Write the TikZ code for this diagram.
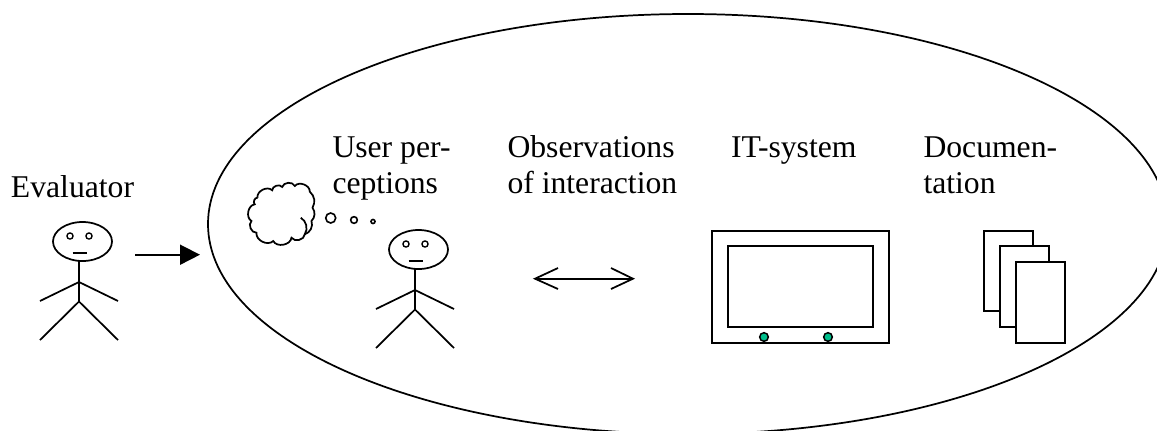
\documentclass[tikz,border=0pt]{standalone}
\usepackage{fontspec}
\setmainfont{Liberation Serif}
\usetikzlibrary{shapes.geometric,arrows.meta}
\definecolor{teal1}{RGB}{0,191,140}
\tikzset{
  x=0.75pt,y=-0.75pt,
  outer sep=0pt,
  label text/.style={anchor=base west,inner sep=0pt,outer sep=0pt,align=left,font=\fontsize{23.75pt}{27pt}\selectfont},
  line1/.style={draw=black,line width=1.3pt},
  line2/.style={draw=black,line width=1.5pt},
  sheet/.style={line2,fill=white,inner sep=0pt,minimum width=36.75pt,minimum height=60.5pt},
  eye/.style={circle,draw=black,line width=1pt,fill=white,inner sep=0pt,minimum size=4.6pt},
  bubble/.style={circle,draw=black,line width=1.2pt,inner sep=0pt},
  lamp/.style={circle,draw=black,line width=1.1pt,fill=teal1,inner sep=0pt,minimum size=6.5pt},
  bump/.style={bend left=72,looseness=1.05},
  stickman/.pic={
    \node[ellipse,line1,inner sep=0pt,minimum width=44.25pt,minimum height=29.25pt] (-head) at (82.5,241.5) {};
    \node[eye] (-eyeA) at (70,236) {};
    \node[eye] (-eyeB) at (89,236) {};
    \coordinate (-neck) at (79,261);
    \coordinate (-shoulder) at (79,282);
    \coordinate (-hip) at (79,301.5);
    \coordinate (-handA) at (40,301);
    \coordinate (-handB) at (118,301);
    \coordinate (-footA) at (40,340);
    \coordinate (-footB) at (118,340);
    \coordinate (-mouthA) at (72.5,252.7);
    \coordinate (-mouthB) at (87,252.7);
    \draw[line1] (-neck) -- (-hip);
    \draw[line1] (-handA) -- (-shoulder) -- (-handB);
    \draw[line1] (-footA) -- (-hip) -- (-footB);
    \draw[line1] (-mouthA) -- (-mouthB);
  }
}
\begin{document}
\begin{tikzpicture}
\useasboundingbox (0,0) rectangle (1157,430);
\clip (0,0) rectangle (1157,430);
\node[ellipse,line1,inner sep=0pt,minimum width=720pt,minimum height=315pt] (scope) at (688,224) {};
\node[label text] (evaluator) at (11,197) {Evaluator};
\node[label text] (user) at (332.5,193) {User per-\\ceptions};
\node[label text] (obs) at (507.5,193) {Observations\\of interaction};
\node[label text] (itsys) at (731,157) {IT-system};
\node[label text] (doc) at (923.5,193) {Documen-\\tation};
\pic (evalman) at (0,0) {stickman};
\pic (userman) at (336,8) {stickman};
% arrow evaluator -> system
\coordinate (arrowA) at (135,254.7);
\coordinate (arrowB) at (200,254.7);
\draw[line1,-{Triangle[length=15pt,width=15pt]}] (arrowA) -- (arrowB);
% thought
\begin{scope}[shift={(1.5,1)}]
\draw[line1] (256,196.7) to[bump] (270.7,189.3) to[bump] (280.7,186) to[bump] (293.3,185) to[bump] (308.3,190.7) to[bend left=40] (311,206.7) to[bend left=40] (310,220) to[bend left=45] (303.3,233.3) to[bump] (290,236.7) to[bump] (271.7,240) to[bump] (255,231.7) to[bump] (250,220) to[bump] (253.3,203.3) to[bump] (256,196.7);
\draw[line1] (299.3,216.7) to[bend left=45] (303.3,233.3);
\end{scope}
\node[bubble,minimum size=7.5pt] (b1) at (330.7,218) {};
\node[bubble,minimum size=5pt] (b2) at (354,220) {};
\node[bubble,minimum size=3pt] (b3) at (373,221.5) {};
% double arrow
\coordinate (dblA) at (535,278.7);
\coordinate (dblB) at (633,278.7);
\coordinate (barbA1) at (558,268);
\coordinate (barbA2) at (558,289);
\coordinate (barbB1) at (611,268);
\coordinate (barbB2) at (611,289);
\draw[line1] (dblA) -- (dblB);
\draw[line1,line join=miter] (barbA1) -- (dblA) -- (barbA2);
\draw[line1,line join=miter] (barbB1) -- (dblB) -- (barbB2);
% monitor
\node[line2,inner sep=0pt,minimum width=132.75pt,minimum height=84pt] (monitor) at (800.5,286.7) {};
\node[line2,inner sep=0pt,minimum width=108.75pt,minimum height=60.75pt] (screen) at (800.5,286.5) {};
\node[lamp] (lampA) at (764,337) {};
\node[lamp] (lampB) at (828,337) {};
% documents
\node[sheet] (sheetA) at (1008.5,271) {};
\node[sheet] (sheetB) at (1024.5,286.5) {};
\node[sheet] (sheetC) at (1040.5,302.7) {};
\end{tikzpicture}
\end{document}
